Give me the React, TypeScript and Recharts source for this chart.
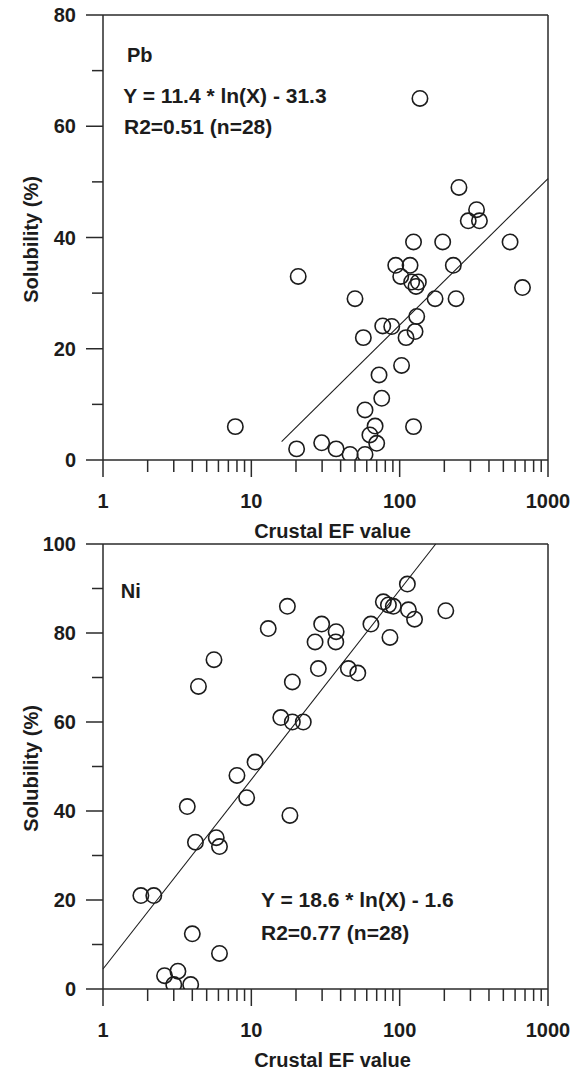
import React from 'react';
import { ScatterChart, Scatter, XAxis, YAxis, ReferenceLine } from 'recharts';

// ---------- data ----------
const xTicks = [1, 2, 3, 4, 5, 6, 7, 8, 9, 10, 20, 30, 40, 50, 60, 70, 80, 90, 100, 200, 300, 400, 500, 600, 700, 800, 900, 1000];
const xMajorTicks = [1, 10, 100, 1000];

const pbYTicks = [0, 10, 20, 30, 40, 50, 60, 70, 80];
const pbYMajor = [0, 20, 40, 60, 80];
const niYTicks = [0, 10, 20, 30, 40, 50, 60, 70, 80, 90, 100];
const niYMajor = [0, 20, 40, 60, 80, 100];

const pbEF = [7.8, 20.2, 20.7, 29.8, 37.3, 46.3, 50, 56.9, 58.4, 58.4, 63, 68.3, 70, 72.6, 75.7, 76.9, 88.4, 94.1, 101.7, 103, 110.4, 117.5, 120.5, 124, 124, 127, 128.9, 130.3, 133.7, 137, 173.3, 195, 230, 240, 251, 290, 330, 345, 555, 673];
const pbSol = [6, 2, 33, 3.1, 2, 1, 29, 22, 9, 1, 4.5, 6.1, 3, 15.3, 11.1, 24.1, 24, 35, 33, 17, 22, 35, 32, 39.2, 6, 23.1, 31.2, 25.8, 32, 65, 29, 39.2, 35, 29, 49, 43, 45, 43, 39.2, 31];
const pbFitX = [16, 1000];
const pbFitY = [3.3, 50.6];

const niEF = [1.8, 2.2, 2.6, 3.0, 3.2, 3.9, 3.7, 4.0, 4.2, 4.4, 5.6, 5.8, 6.1, 6.1, 8.0, 9.3, 10.6, 13.0, 15.8, 17.5, 18.2, 18.9, 18.9, 22.4, 26.9, 28.3, 29.8, 37.1, 37.3, 45.1, 52.2, 64, 77.6, 84, 86, 90.6, 112.7, 114.5, 126, 204.6];
const niSol = [21, 21, 3, 1, 4, 1, 41, 12.4, 33, 68, 74, 34, 32, 8, 48, 43, 51, 81, 61, 86, 39, 69, 60, 60, 78, 72, 82, 78, 80.3, 72, 71, 82, 87, 86.3, 79, 86, 91, 85.2, 83.1, 85];
const niFitX = [1, 175];
const niFitY = [4.5, 100];

const xAxisTitle = 'Crustal EF value';
const yAxisTitle = 'Solubility (%)';
const pbName = 'Pb';
const pbEq = 'Y = 11.4 * ln(X) - 31.3';
const pbR2 = 'R2=0.51 (n=28)';
const niName = 'Ni';
const niEq = 'Y = 18.6 * ln(X) - 1.6';
const niR2 = 'R2=0.77 (n=28)';

// ---------- styles ----------
const FONT = '"Liberation Sans", Arial, Helvetica, sans-serif';
const INK = '#1c1c1c';
const AX = '#2a2a2a';
const AXW = 1.5;

const pbData = pbEF.map((x, i) => ({ x, y: pbSol[i] }));
const niData = niEF.map((x, i) => ({ x, y: niSol[i] }));

const XTick = (props: any) => {
  const { x, y, payload } = props;
  const v = payload.value;
  const major = xMajorTicks.includes(v);
  return (
    <g>
      <line x1={x} x2={x} y1={y} y2={y + (major ? 17 : 12)} stroke={AX} strokeWidth={AXW} />
      {major && (
        <text x={x} y={y + 47.5} textAnchor="middle" fontFamily={FONT} fontWeight="bold" fontSize={20} fill={INK}>
          {v}
        </text>
      )}
    </g>
  );
};

const makeYTick = (majors: number[]) => (props: any) => {
  const { x, y, payload } = props;
  const v = payload.value;
  const major = majors.includes(v);
  return (
    <g>
      <line x1={x - (major ? 17 : 11)} x2={x} y1={y} y2={y} stroke={AX} strokeWidth={AXW} />
      {major && (
        <text x={x - 27} y={y} dy="0.36em" textAnchor="end" fontFamily={FONT} fontWeight="bold" fontSize={20} fill={INK}>
          {v}
        </text>
      )}
    </g>
  );
};

const Ring = (props: any) => {
  const { cx, cy } = props;
  if (cx == null || cy == null) return <g />;
  return <circle cx={cx} cy={cy} r={7.7} fill="none" stroke={INK} strokeWidth={1.6} />;
};

const XTitle = (props: any) => {
  const vb = props.viewBox || { x: 103, y: 460, width: 445, height: 84 };
  return (
    <text x={vb.x + vb.width / 2 + 7} y={vb.y + 78} textAnchor="middle" fontFamily={FONT} fontWeight="bold" fontSize={20} fill={INK}>
      {xAxisTitle}
    </text>
  );
};

const YTitle = (props: any) => {
  const vb = props.viewBox || { x: 0, y: 15, width: 103, height: 445 };
  const cx = vb.x + 37.5;
  const cy = vb.y + vb.height / 2 + 2;
  return (
    <text x={cx} y={cy} transform={`rotate(-90 ${cx} ${cy})`} textAnchor="middle" fontFamily={FONT} fontWeight="bold" fontSize={20} fill={INK}>
      {yAxisTitle}
    </text>
  );
};

type PanelProps = {
  top: number;
  marginTop: number;
  data: { x: number; y: number }[];
  yMax: number;
  yTicks: number[];
  yMajor: number[];
  fitX: number[];
  fitY: number[];
};

const Panel = ({ top, marginTop, data, yMax, yTicks, yMajor, fitX, fitY }: PanelProps) => {
  const H = 544;
  const plotH = 445;
  const xAxisH = H - marginTop - plotH;
  const YTick = makeYTick(yMajor);
  return (
    <div style={{ position: 'absolute', left: 0, top }}>
      <ScatterChart width={582} height={H} margin={{ top: marginTop, right: 34, bottom: 0, left: 0 }}>
        <XAxis
          dataKey="x"
          type="number"
          scale="log"
          domain={[1, 1000]}
          allowDataOverflow
          ticks={xTicks}
          interval={0}
          tickSize={0}
          tickMargin={0}
          tickLine={false}
          axisLine={{ stroke: AX, strokeWidth: AXW }}
          height={xAxisH}
          tick={(p: any) => <XTick {...p} />}
          label={{ content: (p: any) => <XTitle {...p} /> }}
        />
        <YAxis
          dataKey="y"
          type="number"
          domain={[0, yMax]}
          allowDataOverflow
          ticks={yTicks}
          interval={0}
          tickSize={0}
          tickMargin={0}
          tickLine={false}
          axisLine={{ stroke: AX, strokeWidth: AXW }}
          width={103}
          tick={(p: any) => <YTick {...p} />}
          label={{ content: (p: any) => <YTitle {...p} /> }}
        />
        <ReferenceLine y={yMax} stroke={AX} strokeWidth={AXW} />
        <ReferenceLine x={1000} stroke={AX} strokeWidth={AXW} />
        <ReferenceLine
          segment={[
            { x: fitX[0], y: fitY[0] },
            { x: fitX[1], y: fitY[1] },
          ]}
          stroke={INK}
          strokeWidth={1.1}
          ifOverflow="visible"
        />
        <Scatter data={data} shape={(p: any) => <Ring {...p} />} isAnimationActive={false} />
      </ScatterChart>
    </div>
  );
};

const Note = ({ x, y, size, children }: { x: number; y: number; size: number; children: React.ReactNode }) => (
  <text x={x} y={y} fontFamily={FONT} fontWeight="bold" fontSize={size} fill={INK}>
    {children}
  </text>
);

export default function App() {
  return (
    <div style={{ position: 'absolute', left: 0, top: 0, width: 582, height: 1072, background: '#fff' }}>
      <Panel top={0} marginTop={15} data={pbData} yMax={80} yTicks={pbYTicks} yMajor={pbYMajor} fitX={pbFitX} fitY={pbFitY} />
      <Panel top={528} marginTop={16} data={niData} yMax={100} yTicks={niYTicks} yMajor={niYMajor} fitX={niFitX} fitY={niFitY} />
      <svg width={582} height={1072} style={{ position: 'absolute', left: 0, top: 0, pointerEvents: 'none' }}>
        <Note x={127} y={61.7} size={20}>{pbName}</Note>
        <Note x={123.3} y={103.3} size={21}>{pbEq}</Note>
        <Note x={124} y={133.5} size={21}>{pbR2}</Note>
        <Note x={120.7} y={598.3} size={20}>{niName}</Note>
        <Note x={261} y={906.7} size={21}>{niEq}</Note>
        <Note x={261} y={940} size={21}>{niR2}</Note>
      </svg>
    </div>
  );
}
